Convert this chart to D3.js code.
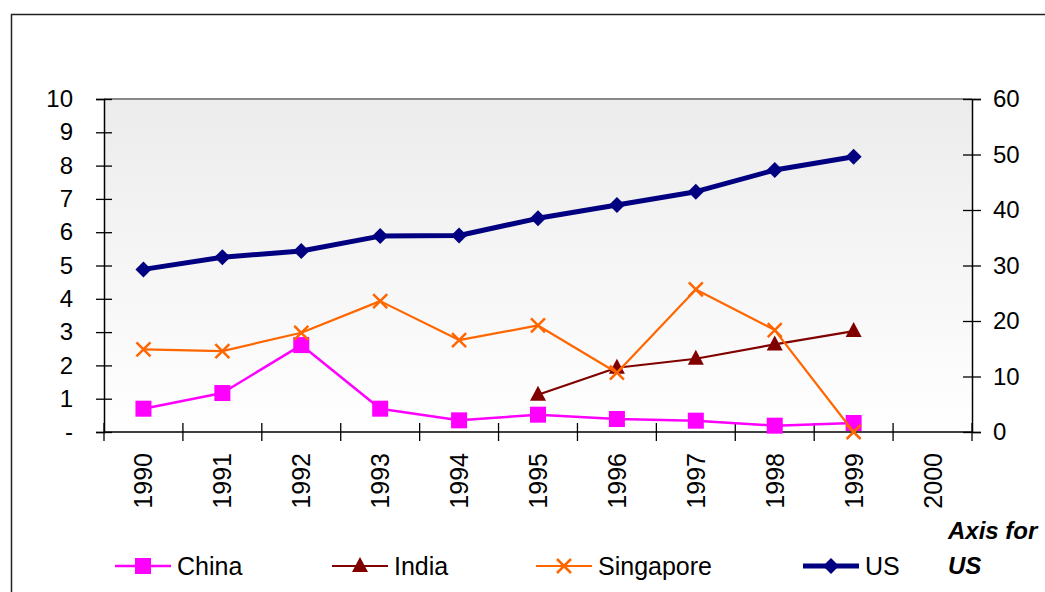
<!DOCTYPE html>
<html lang="en">
<head>
  <meta charset="UTF-8">
  <title>Line chart with US axis</title>
  <style>
    body {
      margin: 0;
      background: #fff;
      font-family: 'Liberation Sans', Arial, sans-serif;
    }
    .tick text { font-size: 24px; fill: #000; }
    .legend text { font-size: 25px; fill: #000; }
  </style>
  <script src="https://d3js.org/d3.v7.min.js"></script>
</head>
<body>
<svg width="1045" height="592"></svg>
<script>
  const years = ["1990", "1991", "1992", "1993", "1994", "1995", "1996", "1997", "1998", "1999", "2000"];
  const china = [0.70, 1.17, 2.61, 0.70, 0.35, 0.52, 0.39, 0.34, 0.19, 0.27, null];
  const india = [null, null, null, null, null, 1.12, 1.93, 2.20, 2.63, 3.03, null];
  const singapore = [2.48, 2.43, 2.98, 3.93, 2.76, 3.20, 1.78, 4.28, 3.06, 0.0, null];
  const us = [29.3, 31.5, 32.6, 35.3, 35.4, 38.5, 40.9, 43.3, 47.2, 49.6, null];
  const leftTicks = [0, 1, 2, 3, 4, 5, 6, 7, 8, 9, 10];
  const rightTicks = [0, 10, 20, 30, 40, 50, 60];

  const svg = d3.select("svg");
  const pLeft = 104, pRight = 972, pTop = 99, pBottom = 432;

  const x = d3.scaleBand().domain(years).range([pLeft, pRight]);
  const yL = d3.scaleLinear().domain([0, 10]).range([pBottom, pTop]);
  const yR = d3.scaleLinear().domain([0, 60]).range([pBottom, pTop]);

  // outer frame (cut off at right and bottom like the original)
  svg.append("path")
    .attr("d", "M11.5,600 V14.5 H1060")
    .attr("fill", "none").attr("stroke", "#222").attr("stroke-width", 1.5);

  // plot area with soft gradient
  const grad = svg.append("defs").append("linearGradient")
    .attr("id", "bg").attr("x1", 0).attr("y1", 0).attr("x2", 0).attr("y2", 1);
  grad.append("stop").attr("offset", "0%").attr("stop-color", "#ececec");
  grad.append("stop").attr("offset", "100%").attr("stop-color", "#ffffff");

  svg.append("rect")
    .attr("x", pLeft).attr("y", pTop)
    .attr("width", pRight - pLeft).attr("height", pBottom - pTop)
    .attr("fill", "url(#bg)");
  svg.append("line")
    .attr("x1", pLeft).attr("x2", pRight).attr("y1", pTop).attr("y2", pTop)
    .attr("stroke", "#888").attr("stroke-width", 2);

  // left axis
  const gL = svg.append("g").attr("transform", `translate(${pLeft},0)`)
    .call(d3.axisLeft(yL).tickValues(leftTicks).tickSize(8).tickPadding(23)
      .tickFormat(d => d === 0 ? "-" : d));
  gL.select(".domain").attr("stroke", "#000").attr("stroke-width", 1.5);
  gL.selectAll(".tick line").attr("x1", 8).attr("x2", -8).attr("stroke", "#000").attr("stroke-width", 1.3);
  gL.selectAll(".tick text").attr("font-family", "Liberation Sans, Arial, sans-serif");

  // right axis (US)
  const gR = svg.append("g").attr("transform", `translate(${pRight},0)`)
    .call(d3.axisRight(yR).tickValues(rightTicks).tickSize(9).tickPadding(12));
  gR.select(".domain").attr("stroke", "#000").attr("stroke-width", 1.5);
  gR.selectAll(".tick line").attr("x1", -9).attr("x2", 9).attr("stroke", "#000").attr("stroke-width", 1.3);
  gR.selectAll(".tick text").attr("font-family", "Liberation Sans, Arial, sans-serif");

  // bottom axis: cross ticks at band edges
  svg.append("line")
    .attr("x1", pLeft).attr("x2", pRight).attr("y1", pBottom).attr("y2", pBottom)
    .attr("stroke", "#000").attr("stroke-width", 1.5);
  const edges = years.map(y => x(y)).concat([pRight]);
  svg.append("g").selectAll("line").data(edges).join("line")
    .attr("x1", d => d).attr("x2", d => d)
    .attr("y1", pBottom - 9).attr("y2", pBottom + 9)
    .attr("stroke", "#000").attr("stroke-width", 1.3);
  svg.append("g").selectAll("text").data(years).join("text")
    .attr("transform", d => `translate(${x(d) + x.bandwidth() / 2 + 9},453) rotate(-90)`)
    .attr("text-anchor", "end")
    .attr("font-size", 25)
    .text(d => d);

  const cx = i => x(years[i]) + x.bandwidth() / 2;

  const series = [
    { name: "China", values: china, scale: yL, color: "#ff00ff", width: 2.5, marker: "square" },
    { name: "India", values: india, scale: yL, color: "#800000", width: 2.2, marker: "triangle" },
    { name: "Singapore", values: singapore, scale: yL, color: "#ff6600", width: 2.2, marker: "cross" },
    { name: "US", values: us, scale: yR, color: "#000080", width: 5, marker: "diamond" }
  ];

  function drawMarker(g, kind, color) {
    if (kind === "square") {
      g.append("rect").attr("x", -8).attr("y", -8).attr("width", 16).attr("height", 16).attr("fill", color);
    } else if (kind === "triangle") {
      g.append("path").attr("d", "M0,-9 L8,6 L-8,6 Z").attr("fill", color);
    } else if (kind === "cross") {
      g.append("path").attr("d", "M-7,-7 L7,7 M-7,7 L7,-7")
        .attr("stroke", color).attr("stroke-width", 2.5).attr("fill", "none");
    } else {
      g.append("path").attr("d", "M0,-8 L8,0 L0,8 L-8,0 Z").attr("fill", color);
    }
  }

  series.forEach(s => {
    const pts = s.values.map((v, i) => ({ i, v })).filter(p => p.v !== null);
    const line = d3.line().x(p => cx(p.i)).y(p => s.scale(p.v));
    svg.append("path")
      .datum(pts)
      .attr("d", line)
      .attr("fill", "none")
      .attr("stroke", s.color)
      .attr("stroke-width", s.width)
      .attr("stroke-linejoin", "round");
    pts.forEach(p => {
      const g = svg.append("g").attr("transform", `translate(${cx(p.i)},${s.scale(p.v)})`);
      drawMarker(g, s.marker, s.color);
    });
  });

  // legend
  const legendX = [115, 332, 536, 803];
  const legend = svg.append("g").attr("class", "legend");
  series.forEach((s, k) => {
    const g = legend.append("g").attr("transform", `translate(${legendX[k]},566)`);
    g.append("line").attr("x1", 0).attr("x2", 56).attr("y1", 0).attr("y2", 0)
      .attr("stroke", s.color).attr("stroke-width", s.width);
    const m = g.append("g").attr("transform", "translate(28,0)");
    drawMarker(m, s.marker, s.color);
    g.append("text").attr("x", 62).attr("y", 9).text(s.name);
  });

  // note for right axis
  const note = svg.append("text")
    .attr("x", 948).attr("font-size", 24).attr("font-weight", "bold").attr("font-style", "italic");
  note.append("tspan").attr("x", 948).attr("y", 539).text("Axis for");
  note.append("tspan").attr("x", 948).attr("y", 574).text("US");
</script>
</body>
</html>
